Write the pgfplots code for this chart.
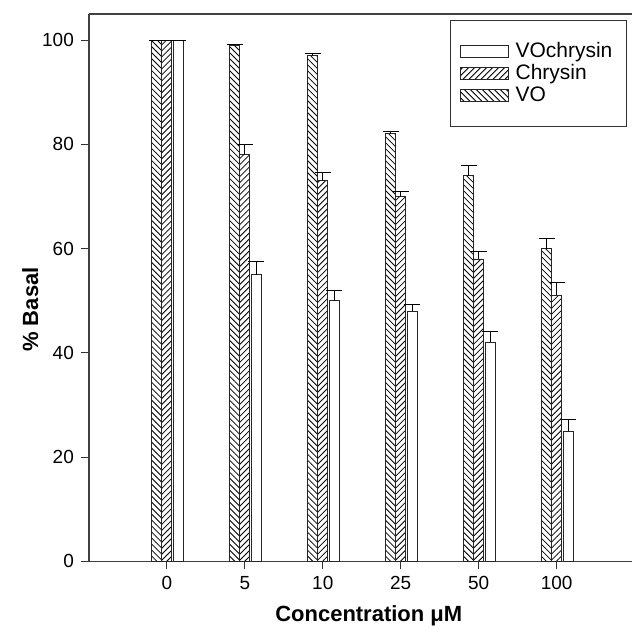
\documentclass[border=0pt]{standalone}
\usepackage{pgfplots}
\pgfplotsset{compat=1.18}
\usepackage{pgfplotstable}
\usepackage{fontspec}
\setmainfont{Liberation Sans}
\usetikzlibrary{patterns}

% columns: category index, mean (% basal), upper error
\pgfplotstableread{
x y err
0 100 0
1 99 0.1
2 97 0.5
3 82 0.4
4 74 2
5 60 2
}\vodata
\pgfplotstableread{
x y err
0 100 0
1 78 2
2 73 1.5
3 70 1
4 58 1.5
5 51 2.5
}\chrysindata
\pgfplotstableread{
x y err
0 100 0
1 55 2.5
2 50 2
3 48 1.3
4 42 2
5 25 2.3
}\vochrysindata

\begin{document}
\begin{tikzpicture}
\begin{axis}[
    scale only axis,
    width=272pt, height=274pt,
    xmin=-1, xmax=5.97,
    ymin=0, ymax=105,
    axis x line=box, axis y line=left,
    axis line style={-, black!75, line width=0.7pt},
    xtick={0,...,5},
    xticklabels={0,5,10,25,50,100},
    ytick={0,20,...,100},
    xtick pos=left, ytick pos=left,
    tick align=outside,
    major tick length=4pt,
    tick style={black!80, line width=0.5pt},
    /pgf/number format/assume math mode=true,
    tick label style={font=\fontsize{9.5}{11}\selectfont},
    xlabel={\textbf{Concentration μM}},
    ylabel={\textbf{\% Basal}},
    xlabel style={font=\fontsize{11}{13}\selectfont, at={(axis description cs:0.515,-0.0985)}, anchor=center},
    ylabel style={font=\fontsize{11}{13}\selectfont, at={(axis description cs:-0.108,0.46)}, anchor=center},
    ybar,
    bar width=5pt,
    every axis plot post/.append style={
        legend image code/.code={\draw[##1] (0pt,-3pt) rectangle (24pt,3pt);}
    },
    reverse legend,
    legend cell align=left,
    legend style={at={(rel axis cs:0.6636,0.989)}, anchor=north west,
        draw=black!80, font=\fontsize{10.5}{12}\selectfont,
        inner xsep=5pt, inner ysep=9pt, row sep=-2pt,
        /tikz/column sep=1.5pt},
    error bars/y dir=plus,
    error bars/y explicit,
    error bars/error bar style={black, line width=0.5pt},
    error bars/error mark options={black, rotate=90, mark size=4pt, line width=0.5pt},
]
\addplot[draw=black!85, pattern=north west lines, bar shift=-5pt]
    table[x=x, y=y, y error=err] {\vodata};
\addplot[draw=black!85, pattern=north east lines, bar shift=0pt]
    table[x=x, y=y, y error=err] {\chrysindata};
\addplot[draw=black!85, fill=white, bar shift=5.7pt]
    table[x=x, y=y, y error=err] {\vochrysindata};
\legend{VO, Chrysin, VOchrysin}
\end{axis}
\path ([shift={(-44.5pt,-34pt)}]current axis.south west) rectangle ([shift={(0pt,7pt)}]current axis.north east);
\end{tikzpicture}
\end{document}
